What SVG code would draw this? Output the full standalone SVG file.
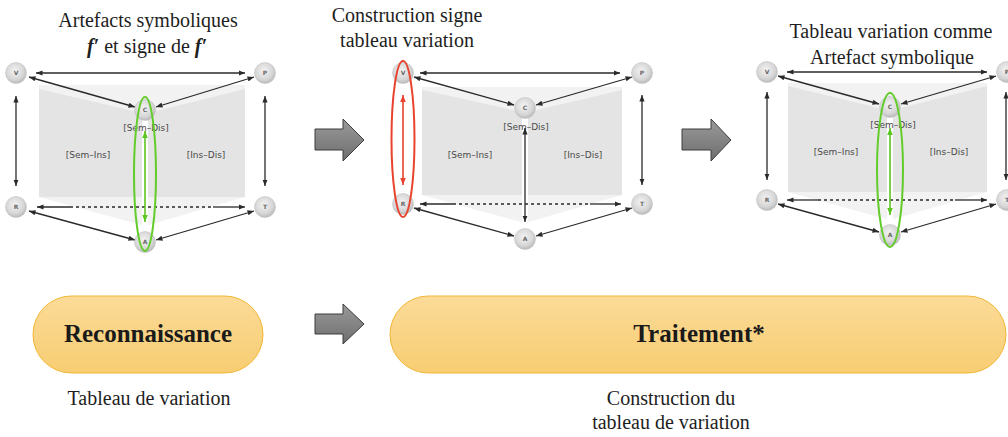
<svg xmlns="http://www.w3.org/2000/svg" width="1008" height="437" viewBox="0 0 1008 437">
<style>
.t{font-family:"Liberation Serif",serif;font-size:20px;fill:#1e1e1e;text-anchor:middle}
.pt{font-family:"Liberation Serif",serif;font-weight:bold;font-size:25px;fill:#1a1a1a;text-anchor:middle}
.lbl{font-family:"DejaVu Sans",sans-serif;font-size:9px;fill:#4a4a4a;text-anchor:middle}
.nl{font-family:"DejaVu Sans",sans-serif;font-size:6px;font-weight:bold;fill:#666;text-anchor:middle}
.nc{fill:url(#ng);stroke:#c4c4c4;stroke-width:0.6}
.light{fill:#f2f2f2}
.page{fill:#e4e4e4}
.gap{fill:#ffffff}
.c{stroke:#2a2a2a;stroke-width:1.3;fill:none}
.m2{marker-start:url(#ah);marker-end:url(#ah)}
.ms{marker-start:url(#ah)}
.me{marker-end:url(#ah)}
.dash{stroke-dasharray:3 3}
.g{stroke:#5cc623;stroke-width:1.6;fill:none;marker-start:url(#ahg);marker-end:url(#ahg)}
.r{stroke:#e8432e;stroke-width:1.6;fill:none;marker-start:url(#ahr);marker-end:url(#ahr)}
.ge{fill:none;stroke:#62cc2a;stroke-width:2}
.re{fill:none;stroke:#e8432e;stroke-width:2}
.big{fill:url(#ag);stroke:#3c3c3c;stroke-width:1}
.pill{fill:url(#pg);stroke:#f2b634;stroke-width:1}
</style>
<defs>
<radialGradient id="ng" cx="0.45" cy="0.4" r="0.6">
<stop offset="0" stop-color="#f3f3f3"/>
<stop offset="0.7" stop-color="#d6d6d6"/>
<stop offset="1" stop-color="#b9b9b9"/>
</radialGradient>
<linearGradient id="ag" x1="0" y1="0" x2="0" y2="1">
<stop offset="0" stop-color="#9a9a9a"/>
<stop offset="1" stop-color="#6e6e6e"/>
</linearGradient>
<linearGradient id="pg" x1="0" y1="0" x2="0" y2="1">
<stop offset="0" stop-color="#fbdb98"/>
<stop offset="1" stop-color="#f8cd72"/>
</linearGradient>
<marker id="ah" viewBox="0 0 10 10" refX="10" refY="5" markerWidth="5" markerHeight="5" orient="auto-start-reverse"><path d="M0,1 L10,5 L0,9 z" fill="#2a2a2a"/></marker>
<marker id="ahg" viewBox="0 0 10 10" refX="10" refY="5" markerWidth="4.5" markerHeight="4.5" orient="auto-start-reverse"><path d="M0,1 L10,5 L0,9 z" fill="#5cc623"/></marker>
<marker id="ahr" viewBox="0 0 10 10" refX="10" refY="5" markerWidth="4.5" markerHeight="4.5" orient="auto-start-reverse"><path d="M0,1 L10,5 L0,9 z" fill="#e8432e"/></marker>
</defs>
<rect width="1008" height="437" fill="#ffffff"/>

<!-- book backgrounds -->
<g id="books">
<polygon class="light" points="39,85 245,85 245,197 145,226 39,197"/>
<polygon class="page" points="39,89 142,113 142,197 39,197"/>
<polygon class="page" points="148,113 245,89 245,197 148,197"/>
<rect class="gap" x="142" y="112" width="6" height="116"/>

<polygon class="light" points="422,87 622,87 622,195 525,223 422,195"/>
<polygon class="page" points="422,90 522,112 522,195 422,195"/>
<polygon class="page" points="528,112 622,90 622,195 528,195"/>
<rect class="gap" x="522" y="111" width="6" height="114"/>

<polygon class="light" points="788,83 987,83 987,192 890,220 788,192"/>
<polygon class="page" points="788,86 887,110 887,192 788,192"/>
<polygon class="page" points="893,110 987,86 987,192 893,192"/>
<rect class="gap" x="887" y="109" width="6" height="113"/>
</g>

<g id="region-labels">
<text class="lbl" x="146" y="131">[Sem–Dis]</text>
<text class="lbl" x="88" y="158">[Sem–Ins]</text>
<text class="lbl" x="206" y="158">[Ins–Dis]</text>
<text class="lbl" x="526" y="130">[Sem–Dis]</text>
<text class="lbl" x="470" y="158">[Sem–Ins]</text>
<text class="lbl" x="583" y="158">[Ins–Dis]</text>
<text class="lbl" x="893" y="128">[Sem–Dis]</text>
<text class="lbl" x="836" y="155">[Sem–Ins]</text>
<text class="lbl" x="949" y="155">[Ins–Dis]</text>
</g>

<g id="connectors">
<!-- diagram 1 -->
<line class="c m2" x1="36" y1="73" x2="245" y2="73"/>
<line class="c m2" x1="29" y1="77" x2="135" y2="107"/>
<line class="c m2" x1="254" y1="77" x2="156" y2="107"/>
<line class="c m2" x1="16" y1="96" x2="16" y2="186"/>
<line class="c m2" x1="265" y1="96" x2="265" y2="186"/>
<line class="c ms" x1="37" y1="207" x2="70" y2="207"/>
<line class="c dash" x1="70" y1="207" x2="213" y2="207"/>
<line class="c me" x1="213" y1="207" x2="245" y2="207"/>
<line class="c m2" x1="29" y1="211" x2="135" y2="240"/>
<line class="c m2" x1="254" y1="211" x2="156" y2="240"/>
<line class="g" x1="145" y1="131" x2="145" y2="222"/>
<!-- diagram 2 -->
<line class="c m2" x1="420" y1="73" x2="620" y2="73"/>
<line class="c m2" x1="414" y1="77" x2="514" y2="105"/>
<line class="c m2" x1="632" y1="77" x2="536" y2="105"/>
<line class="r" x1="403" y1="95" x2="403" y2="185"/>
<line class="c m2" x1="642" y1="95" x2="642" y2="185"/>
<line class="c ms" x1="420" y1="204" x2="453" y2="204"/>
<line class="c dash" x1="453" y1="204" x2="590" y2="204"/>
<line class="c me" x1="590" y1="204" x2="621" y2="204"/>
<line class="c m2" x1="414" y1="208" x2="514" y2="236"/>
<line class="c m2" x1="632" y1="208" x2="536" y2="236"/>
<line class="c m2" x1="525" y1="128" x2="525" y2="222"/>
<!-- diagram 3 -->
<line class="c m2" x1="787" y1="72" x2="987" y2="72"/>
<line class="c m2" x1="778" y1="76" x2="879" y2="104"/>
<line class="c m2" x1="996" y1="76" x2="901" y2="104"/>
<line class="c m2" x1="767" y1="92" x2="767" y2="180"/>
<line class="c m2" x1="1006" y1="92" x2="1006" y2="180"/>
<line class="c ms" x1="787" y1="200" x2="818" y2="200"/>
<line class="c dash" x1="818" y1="200" x2="955" y2="200"/>
<line class="c me" x1="955" y1="200" x2="987" y2="200"/>
<line class="c m2" x1="778" y1="204" x2="879" y2="232"/>
<line class="c m2" x1="996" y1="204" x2="901" y2="232"/>
<line class="g" x1="890" y1="128" x2="890" y2="215"/>
<!-- big grey arrows -->
<path class="big" d="M315,129 H343 V119 L364,140 L343,161 V150 H315 Z"/>
<path class="big" d="M682,129 H711 V119 L731,140 L711,161 V150 H682 Z"/>
<path class="big" d="M315,314 H343 V304 L364,324 L343,344 V334 H315 Z"/>
</g>

<!-- diagram 1 nodes -->
<g id="d1-V"><circle class="nc" cx="16" cy="73" r="10.5"/><text class="nl" x="16" y="75">V</text></g>
<g id="d1-P"><circle class="nc" cx="265" cy="73" r="10.5"/><text class="nl" x="265" y="75">P</text></g>
<g id="d1-C"><circle class="nc" cx="145" cy="110" r="10.5"/><text class="nl" x="145" y="112">C</text></g>
<g id="d1-R"><circle class="nc" cx="16" cy="207" r="10.5"/><text class="nl" x="16" y="209">R</text></g>
<g id="d1-T"><circle class="nc" cx="265" cy="207" r="10.5"/><text class="nl" x="265" y="209">T</text></g>
<g id="d1-A"><circle class="nc" cx="145" cy="242" r="10.5"/><text class="nl" x="145" y="244">A</text></g>
<!-- diagram 2 nodes -->
<g id="d2-V"><circle class="nc" cx="403" cy="73" r="10.5"/><text class="nl" x="403" y="75">V</text></g>
<g id="d2-P"><circle class="nc" cx="642" cy="73" r="10.5"/><text class="nl" x="642" y="75">P</text></g>
<g id="d2-C"><circle class="nc" cx="525" cy="108" r="10.5"/><text class="nl" x="525" y="110">C</text></g>
<g id="d2-R"><circle class="nc" cx="403" cy="204" r="10.5"/><text class="nl" x="403" y="206">R</text></g>
<g id="d2-T"><circle class="nc" cx="642" cy="204" r="10.5"/><text class="nl" x="642" y="206">T</text></g>
<g id="d2-A"><circle class="nc" cx="525" cy="239" r="10.5"/><text class="nl" x="525" y="241">A</text></g>
<!-- diagram 3 nodes -->
<g id="d3-V"><circle class="nc" cx="767" cy="72" r="10.5"/><text class="nl" x="767" y="74">V</text></g>
<g id="d3-P"><circle class="nc" cx="1007" cy="72" r="10.5"/><text class="nl" x="1007" y="74">P</text></g>
<g id="d3-C"><circle class="nc" cx="890" cy="107" r="10.5"/><text class="nl" x="890" y="109">C</text></g>
<g id="d3-R"><circle class="nc" cx="767" cy="200" r="10.5"/><text class="nl" x="767" y="202">R</text></g>
<g id="d3-T"><circle class="nc" cx="1007" cy="200" r="10.5"/><text class="nl" x="1007" y="202">T</text></g>
<g id="d3-A"><circle class="nc" cx="890" cy="235" r="10.5"/><text class="nl" x="890" y="237">A</text></g>

<g id="highlights">
<ellipse class="ge" cx="145" cy="174" rx="11" ry="77"/>
<ellipse class="re" cx="403" cy="139" rx="11.5" ry="78"/>
<ellipse class="ge" cx="890" cy="170" rx="13" ry="77"/>
</g>

<g id="titles">
<text class="t" x="148" y="27">Artefacts symboliques</text>
<text class="t" x="147" y="53"><tspan font-weight="bold" font-style="italic">f′</tspan> et signe de <tspan font-weight="bold" font-style="italic">f′</tspan></text>
<text class="t" x="407" y="22">Construction signe</text>
<text class="t" x="407" y="47">tableau variation</text>
<text class="t" x="891" y="38">Tableau variation comme</text>
<text class="t" x="892" y="64">Artefact symbolique</text>
</g>

<g id="reconnaissance">
<rect class="pill" x="33" y="296" width="230" height="77" rx="38.5"/>
<text class="pt" x="148" y="342">Reconnaissance</text>
</g>
<g id="traitement">
<rect class="pill" x="390" y="296" width="616" height="77" rx="38.5"/>
<text class="pt" x="699" y="342">Traitement*</text>
</g>

<g id="captions">
<text class="t" x="149" y="405">Tableau de variation</text>
<text class="t" x="671" y="405">Construction du</text>
<text class="t" x="671" y="429">tableau de variation</text>
</g>
</svg>
